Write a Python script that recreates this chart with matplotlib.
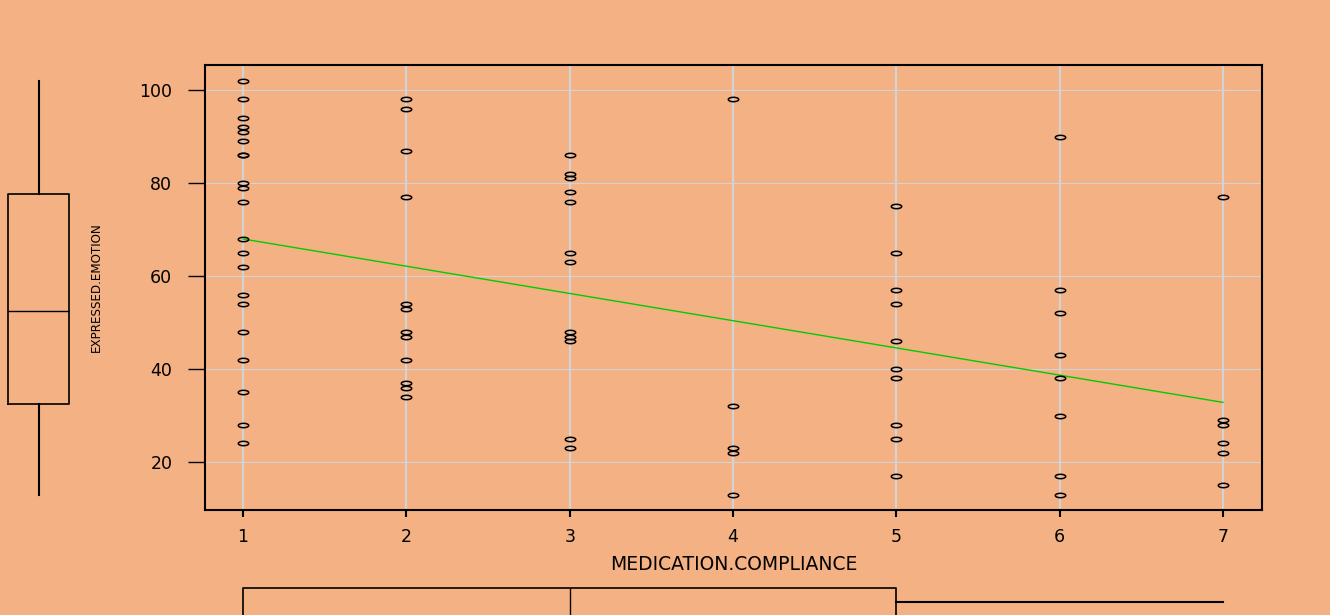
import numpy as np
import matplotlib.pyplot as plt
from matplotlib.path import Path

# EXPRESSED.EMOTION values, one list per compliance level
emotion_1 = [102, 98, 94, 92, 91, 89, 86, 86, 80, 79, 76, 68, 65, 62, 56, 54, 48, 42, 35, 28, 24]
emotion_2 = [98, 96, 87, 77, 54, 53, 48, 47, 42, 37, 36, 34]
emotion_3 = [86, 82, 81, 78, 76, 65, 63, 48, 47, 46, 25, 23]
emotion_4 = [98, 32, 23, 22, 13]
emotion_5 = [75, 65, 57, 54, 46, 40, 38, 28, 25, 17]
emotion_6 = [90, 57, 52, 43, 38, 30, 17, 13]
emotion_7 = [77, 29, 28, 24, 22, 15]

compliance_levels = [1, 2, 3, 4, 5, 6, 7]
y_ticks = [20, 40, 60, 80, 100]

groups = [emotion_1, emotion_2, emotion_3, emotion_4, emotion_5, emotion_6, emotion_7]
x = np.concatenate([[lvl] * len(g) for lvl, g in zip(compliance_levels, groups)]).astype(float)
y = np.concatenate(groups).astype(float)

bg = '#F4B183'
W, H = 1330, 615

# flat open ellipse, like the stretched R circles
t = np.linspace(0, 2 * np.pi, 40)
ellipse = Path(np.column_stack([np.cos(t), 0.42 * np.sin(t)]), closed=True)

fig = plt.figure(figsize=(W / 100, H / 100), dpi=100, facecolor=bg)
ax = fig.add_axes([205 / W, 1 - 510 / H, (1262 - 205) / W, (510 - 65) / H])
ax.set_facecolor(bg)
ax.set_xlim(0.767, 7.239)
ax.set_ylim(9.68, 105.4)

for xv in compliance_levels:
    ax.axvline(xv, color='#D3D3D3', lw=1.6, zorder=1)
for yv in y_ticks:
    ax.axhline(yv, color='#D3D3D3', lw=0.8, zorder=1)

ax.plot(x, y, linestyle='none', marker=ellipse, ms=7.5, mfc='none',
        mec='black', mew=1.1, zorder=3)

coef = np.polyfit(x, y, 1)
xs = np.array([x.min(), x.max()])
ax.plot(xs, np.polyval(coef, xs), color='#00CD00', lw=1.0, zorder=2)

for s in ax.spines.values():
    s.set_linewidth(1.5)
ax.set_xticks(compliance_levels)
ax.set_yticks(y_ticks)
ax.tick_params(axis='y', length=12, width=1, pad=11.5, labelsize=12.5)
ax.tick_params(axis='x', length=5, width=1.5, pad=8, labelsize=12.5)
for lab in ax.get_xticklabels() + ax.get_yticklabels():
    lab.set_family('DejaVu Sans')

ax.set_xlabel('MEDICATION.COMPLIANCE', fontsize=13.5, family='DejaVu Sans')
ax.xaxis.set_label_coords(0.5, -0.1)
ax.set_ylabel('EXPRESSED.EMOTION', fontsize=9.5, fontstretch='condensed',
              family=['Liberation Sans Narrow', 'DejaVu Sans'])
ax.yaxis.set_label_coords(-0.0965, 0.5)

box_kw = dict(showcaps=False, showfliers=False, widths=1.0, positions=[0],
              boxprops=dict(color='black', lw=1.2),
              whiskerprops=dict(color='black', lw=1.5),
              medianprops=dict(color='black', lw=1.0))

# marginal boxplot of EXPRESSED.EMOTION
axl = fig.add_axes([8 / W, 1 - 510 / H, 61 / W, (510 - 65) / H], sharey=ax)
parts = axl.boxplot(y, **box_kw)
axl.set_xlim(-0.5, 0.5)
axl.axis('off')
for arts in parts.values():
    for a in arts:
        a.set_clip_on(False)

# marginal boxplot of MEDICATION.COMPLIANCE
axb = fig.add_axes([205 / W, -1 / H, (1262 - 205) / W, 28 / H], sharex=ax)
parts = axb.boxplot(x, orientation='horizontal', **box_kw)
axb.set_ylim(-0.5, 0.5)
axb.axis('off')
for arts in parts.values():
    for a in arts:
        a.set_clip_on(False)

fig.savefig('out.png', dpi=100, facecolor=bg)
